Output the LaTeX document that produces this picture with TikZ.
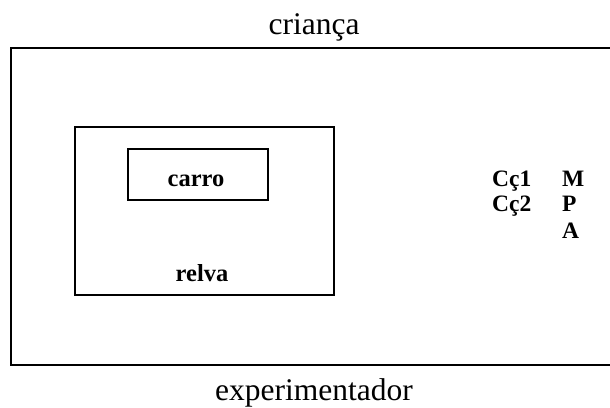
\documentclass[tikz,border=0pt]{standalone}
\usepackage{fontspec}
\setmainfont{Liberation Serif}
\begin{document}
\begin{tikzpicture}[x=1pt,y=-1pt,
  box/.style={draw,line width=1.2pt},
  blbl/.style={inner sep=0pt,font=\fontsize{23.5}{26}\selectfont\bfseries,anchor=base west}]
\useasboundingbox (0,0) rectangle (610,407);
\coordinate (otl) at (11,48);
\coordinate (otr) at (610,48);
\coordinate (obl) at (11,365);
\coordinate (obr) at (610,365);
\draw[line width=1.5pt] (otr) -- (otl) -- (obl) -- (obr);
\node[box,minimum width=259pt,minimum height=168pt,inner sep=0pt] (relvabox) at (204.5,211) {};
\node[box,minimum width=140pt,minimum height=51pt,inner sep=0pt] (carrobox) at (198,174.5) {};
\node[inner sep=0pt,font=\fontsize{24.5}{27}\selectfont\bfseries] (carro) at (196,181) {carro};
\node[inner sep=0pt,font=\fontsize{24.5}{27}\selectfont\bfseries] (relva) at (202,273) {relva};
\node[inner sep=0pt,anchor=base,font=\fontsize{31.5}{34}\selectfont] (crianca) at (314,34) {criança};
\node[inner sep=0pt,anchor=base,font=\fontsize{31.5}{34}\selectfont] (exp) at (314,400) {experimentador};
\node[blbl] (c1) at (492,186) {Cç1};
\node[blbl] (c2) at (492,211) {Cç2};
\node[blbl] (m) at (562,186) {M};
\node[blbl] (p) at (562,211) {P};
\node[blbl] (a) at (562,238) {A};
\end{tikzpicture}
\end{document}
